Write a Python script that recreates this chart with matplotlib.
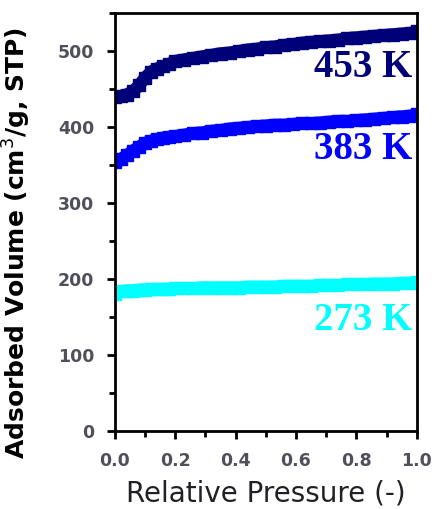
import numpy as np
import matplotlib
matplotlib.use("Agg")
from matplotlib import pyplot as plt
from matplotlib.ticker import MultipleLocator

# relative pressure points
p = [0.00, 0.02, 0.04, 0.06, 0.08, 0.10, 0.12, 0.14, 0.16, 0.18, 0.20, 0.23, 0.26,
     0.29, 0.32, 0.35, 0.38, 0.41, 0.44, 0.47, 0.50, 0.53, 0.56, 0.59, 0.62, 0.65,
     0.68, 0.71, 0.74, 0.77, 0.80, 0.83, 0.86, 0.89, 0.92, 0.95, 0.98, 1.00]

v453 = [440, 441, 443, 447, 455, 465, 473, 477, 480, 483, 487, 489, 491, 493, 495,
        497, 498, 500, 502, 503, 505, 506, 508, 509, 511, 512, 513, 514, 515, 517,
        518, 519, 520, 521, 522, 523, 524, 526]
v383 = [354, 358, 363, 369, 374, 379, 382, 384, 386, 387, 388, 390, 392, 393, 395,
        396, 398, 399, 400, 401, 402, 403, 403, 404, 405, 405, 406, 407, 408, 408,
        409, 410, 411, 412, 413, 414, 415, 417]
v273 = [181, 184, 185, 185, 186, 186, 187, 187, 187, 187, 188, 188, 188, 189, 189,
        189, 189, 189, 190, 190, 190, 190, 191, 191, 191, 191, 192, 192, 192, 193,
        193, 193, 194, 194, 194, 195, 195, 196]

series = [("453 K", v453, "#000078", 478),
          ("383 K", v383, "#0000ff", 370),
          ("273 K", v273, "#00ffff", 146)]

fig = plt.figure(figsize=(4.35, 5.09), dpi=100)
ax = fig.add_axes([0.264, 0.153, 0.694, 0.821])

for name, v, c, ty in series:
    ax.plot(p, v, color=c, lw=9, marker="s", ms=8, solid_capstyle="butt")
    ax.text(0.985, ty, name, color=c, fontsize=28, fontweight="bold",
            family="Liberation Serif", ha="right", va="center")

ax.set_xlim(0, 1.0)
ax.set_ylim(0, 550)
ax.xaxis.set_major_locator(MultipleLocator(0.2))
ax.xaxis.set_minor_locator(MultipleLocator(0.1))
ax.yaxis.set_major_locator(MultipleLocator(100))
ax.yaxis.set_minor_locator(MultipleLocator(50))
ax.tick_params(which="both", direction="out", width=2, top=False, right=False)
ax.tick_params(which="major", length=6, pad=9)
ax.tick_params(which="minor", length=4.5)
ax.set_xticks([0.0, 0.2, 0.4, 0.6, 0.8, 1.0])
ax.set_xticklabels(["0.0", "0.2", "0.4", "0.6", "0.8", "1.0"])
for lab in ax.get_xticklabels() + ax.get_yticklabels():
    lab.set_fontsize(12.5)
    lab.set_fontweight("bold")
    lab.set_color("#50505c")
    lab.set_family("DejaVu Sans")
for s in ax.spines.values():
    s.set_linewidth(2)

ax.set_xlabel("Relative Pressure (-)", fontsize=20, family="DejaVu Sans",
              color="#202028", labelpad=7)
ax.set_ylabel("Adsorbed Volume (cm$^{3}$/g, STP)", fontsize=18, fontweight="bold",
              family="DejaVu Sans")
ax.yaxis.set_label_coords(-0.27, 0.45)

fig.savefig("out.png", dpi=100)
